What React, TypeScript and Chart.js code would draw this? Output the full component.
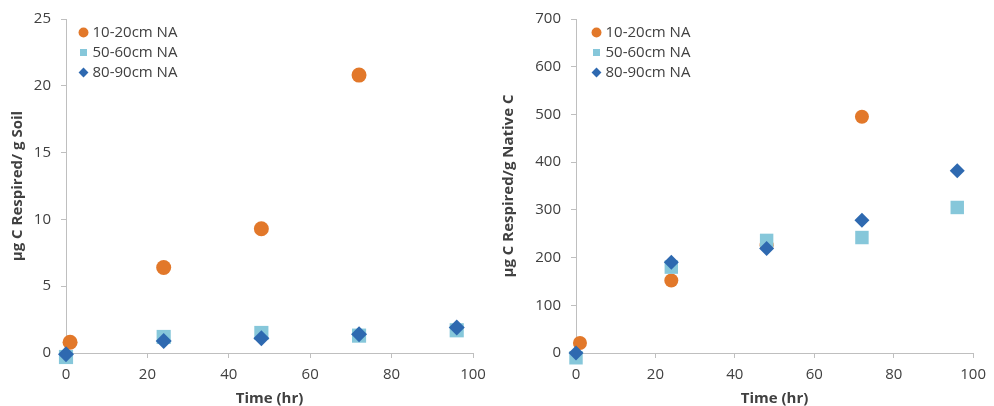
import React, { useEffect, useRef } from "react";
import { Chart, registerables } from "chart.js";

Chart.register(...registerables);

const seriesNames = ["10-20cm NA", "50-60cm NA", "80-90cm NA"];
const seriesColors = ["#E2782A", "#86C7DA", "#2E69B0"];
const seriesStyles = ["circle", "rect", "rectRot"];

const timeA = [1, 24, 48, 72];
const soilA = [0.8, 6.4, 9.3, 20.8];
const timeB = [0, 24, 48, 72, 96];
const soilB = [-0.3, 1.2, 1.5, 1.3, 1.7];
const timeC = [0, 24, 48, 72, 96];
const soilC = [-0.1, 0.9, 1.1, 1.4, 1.9];

const nativeA = [21, 152, 226, 495];
const nativeB = [-10, 180, 236, 242, 305];
const nativeC = [0, 190, 219, 278, 382];

const xTicks = [0, 20, 40, 60, 80, 100];
const soilTicks = [0, 5, 10, 15, 20, 25];
const nativeTicks = [0, 100, 200, 300, 400, 500, 600, 700];

const FONT = "'Open Sans', 'Liberation Sans', sans-serif";
const TXT = "#404040";
const AX = "#BFBFBF";

function pts(xs: number[], ys: number[]) {
  return xs.map((x, i) => ({ x, y: ys[i] }));
}

// places the in-plot legend relative to the chart area
function legendPlacer(dx: number, dy: number) {
  return {
    id: "legendPlacer",
    afterLayout(chart: any) {
      const lg = chart.legend;
      if (!lg) return;
      const w = lg.width;
      const h = lg.height;
      lg.left = chart.chartArea.left + dx;
      lg.top = chart.chartArea.top + dy;
      lg.right = lg.left + w;
      lg.bottom = lg.top + h;
      if (lg.adjustHitBoxes) lg.adjustHitBoxes();
    },
  };
}

function makeConfig(
  ys: number[][],
  xs: number[][],
  yTicks: number[],
  yTitle: string,
  radii: number[],
  yAxisWidth: number,
  rightPad: number,
  titlePad: number
): any {
  const datasets = ys.map((y, i) => ({
    label: seriesNames[i],
    data: pts(xs[i], y),
    backgroundColor: seriesColors[i],
    borderColor: seriesColors[i],
    borderWidth: 0,
    pointStyle: seriesStyles[i],
    pointRadius: radii[i],
    pointHoverRadius: radii[i],
    order: 3 - i,
    clip: false,
  }));
  return {
    type: "scatter",
    data: { datasets },
    options: {
      responsive: false,
      animation: false,
      events: [],
      layout: { padding: { left: 0, top: 18, right: rightPad, bottom: 0 } },
      plugins: {
        tooltip: { enabled: false },
        legend: {
          position: "chartArea",
          align: "start",
          reverse: true,
          labels: {
            usePointStyle: true,
            boxWidth: 3,
            boxHeight: 7,
            padding: 5,
            color: TXT,
            font: { family: FONT, size: 15 },
          },
        },
      },
      scales: {
        x: {
          type: "linear",
          min: xTicks[0],
          max: xTicks[xTicks.length - 1],
          afterBuildTicks: (s: any) => {
            s.ticks = xTicks.map((v) => ({ value: v }));
          },
          afterFit: (s: any) => {
            s.height = 53;
          },
          grid: { display: true, drawOnChartArea: false, drawTicks: true, tickLength: 5, color: AX },
          border: { display: true, color: AX },
          ticks: { color: TXT, font: { family: FONT, size: 15 }, padding: 8, maxRotation: 0 },
          title: {
            display: true,
            text: "Time (hr)",
            color: TXT,
            font: { family: FONT, size: 15, weight: "bold", lineHeight: 1 },
            padding: { top: 0, bottom: 0 },
          },
        },
        y: {
          type: "linear",
          min: yTicks[0],
          max: yTicks[yTicks.length - 1],
          afterBuildTicks: (s: any) => {
            s.ticks = yTicks.map((v) => ({ value: v }));
          },
          afterFit: (s: any) => {
            s.width = yAxisWidth;
          },
          grid: { display: true, drawOnChartArea: false, drawTicks: true, tickLength: 5, color: AX },
          border: { display: true, color: AX },
          ticks: { color: TXT, font: { family: FONT, size: 15 }, padding: 10 },
          title: {
            display: true,
            text: yTitle,
            color: TXT,
            font: { family: FONT, size: 15, weight: "bold", lineHeight: 1 },
            padding: { top: titlePad, bottom: 0 },
          },
        },
      },
    },
  };
}

function Panel(props: { config: any; dx: number; dy: number }) {
  const ref = useRef<HTMLCanvasElement | null>(null);
  useEffect(() => {
    if (!ref.current) return;
    const chart = new Chart(ref.current, {
      ...props.config,
      plugins: [legendPlacer(props.dx, props.dy)],
    });
    return () => chart.destroy();
  }, []);
  return <canvas ref={ref} width={497} height={406} style={{ display: "block" }} />;
}

export default function App() {
  const left = makeConfig(
    [soilA, soilB, soilC],
    [timeA, timeB, timeC],
    soilTicks,
    "µg C Respired/ g Soil",
    [7.5, 10, 8],
    66,
    24,
    10
  );
  const right = makeConfig(
    [nativeA, nativeB, nativeC],
    [timeA, timeB, timeC],
    nativeTicks,
    "µg C Respired/g Native C",
    [7, 9.5, 7.5],
    79,
    17,
    4
  );
  return (
    <div
      style={{
        position: "absolute",
        left: 0,
        top: 0,
        width: 994,
        height: 406,
        display: "flex",
        background: "#fff",
      }}
    >
      <Panel config={left} dx={11} dy={1} />
      <Panel config={right} dx={14} dy={1} />
    </div>
  );
}
